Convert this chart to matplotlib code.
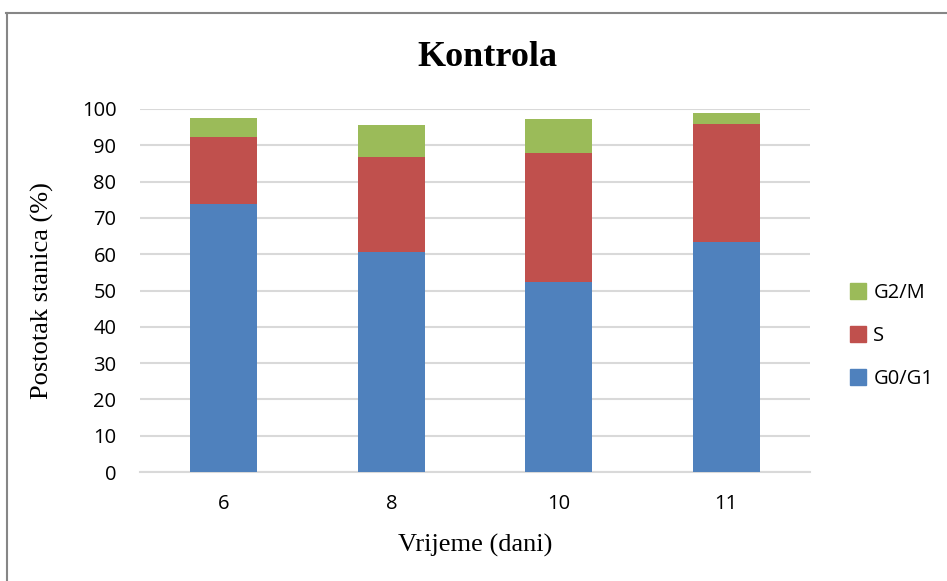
import numpy as np
import matplotlib
matplotlib.use("Agg")
import matplotlib.pyplot as plt
from matplotlib.patches import Patch
from matplotlib.lines import Line2D

# Data
days = ["6", "8", "10", "11"]
g0_g1 = [73.8, 60.5, 52.4, 63.3]
s_phase = [18.6, 26.4, 35.6, 32.6]
g2_m = [5.1, 8.6, 9.2, 2.9]

colors = {"G0/G1": "#4f81bd", "S": "#c0504d", "G2/M": "#9bbb59"}

fig = plt.figure(figsize=(9.47, 5.81), dpi=100)

# Axes placement in pixel terms (figure is 947 x 581)
W, H = 947, 581
left, right, top, bottom = 140, 810, 109, 472
ax = fig.add_axes([left / W, 1 - bottom / H, (right - left) / W, (bottom - top) / H])

x = np.arange(len(days))
width = 0.4
g0 = np.array(g0_g1)
s = np.array(s_phase)
g2 = np.array(g2_m)

ax.bar(x, g0, width, color=colors["G0/G1"], zorder=3)
ax.bar(x, s, width, bottom=g0, color=colors["S"], zorder=3)
ax.bar(x, g2, width, bottom=g0 + s, color=colors["G2/M"], zorder=3)

ax.set_xlim(-0.5, len(days) - 0.5)
ax.set_ylim(0, 100)
ax.set_yticks(np.arange(0, 101, 10))
ax.set_xticks(x)
ax.set_xticklabels(days)
ax.yaxis.grid(True, color="#d9d9d9", linewidth=1.5, zorder=0)
ax.set_axisbelow(True)
for sp in ["top", "right", "left"]:
    ax.spines[sp].set_visible(False)
ax.spines["bottom"].set_color("#d9d9d9")
ax.spines["bottom"].set_linewidth(1.5)
ax.tick_params(axis="both", length=0, labelsize=14.5, colors="black")
ax.tick_params(axis="y", pad=17)
ax.tick_params(axis="x", pad=16)
for lab in ax.get_xticklabels() + ax.get_yticklabels():
    lab.set_fontfamily("Open Sans")

ax.set_xlabel("Vrijeme (dani)", fontfamily="Liberation Serif", fontsize=19, labelpad=14)
ax.set_ylabel("Postotak stanica (%)", fontfamily="Liberation Serif", fontsize=19, labelpad=20)

fig.text(0.5 + 0.015, 1 - 57 / H, "Kontrola", ha="center", va="center",
         fontfamily="Liberation Serif", fontweight="bold", fontsize=26)

# Legend (reversed order like the reference)
handles = [Patch(color=colors[k]) for k in ["G2/M", "S", "G0/G1"]]
leg = fig.legend(handles, ["G2/M", "S", "G0/G1"], loc="center left",
                 bbox_to_anchor=(832 / W, 1 - 336 / H), frameon=False,
                 handlelength=0.8, handleheight=0.8, handletextpad=0.35,
                 labelspacing=1.15, prop={"family": "Open Sans", "size": 14.5})

# Chart border (top and left edges visible)
fig.add_artist(Line2D([6 / W, 1], [1 - 13 / H, 1 - 13 / H], color="#868686", linewidth=1.5))
fig.add_artist(Line2D([7 / W, 7 / W], [0, 1 - 13 / H], color="#868686", linewidth=1.5))

fig.savefig("out.png", dpi=100)
